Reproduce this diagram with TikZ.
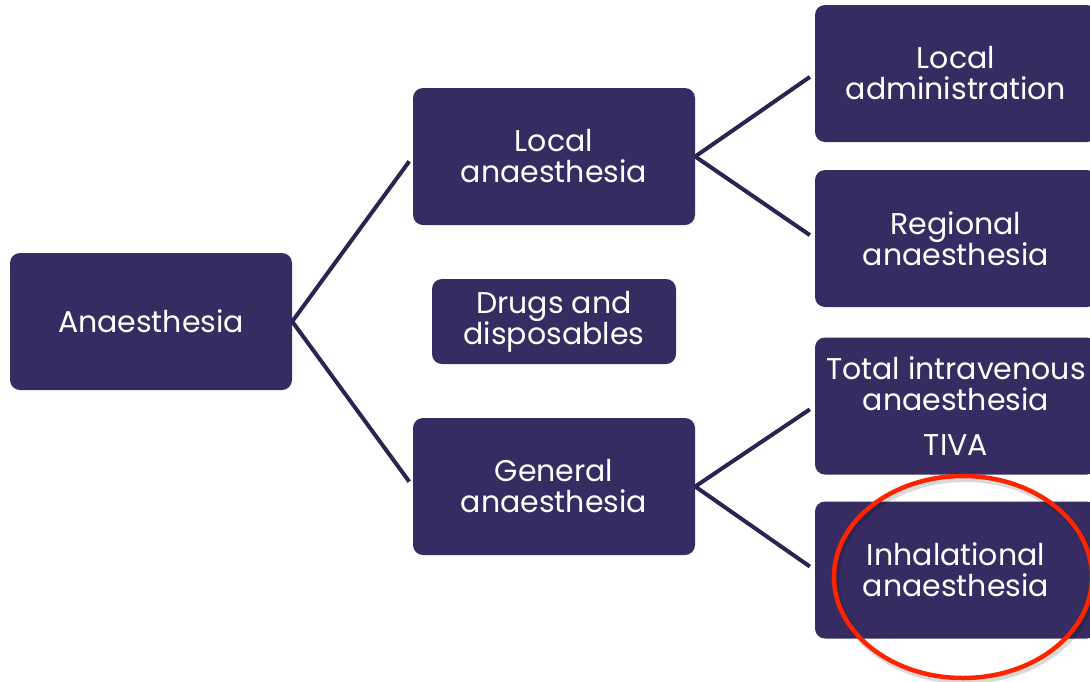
\documentclass[tikz,border=0pt]{standalone}
\usepackage{fontspec}
\setmainfont{Poppins}
\definecolor{boxfill}{HTML}{372C62}
\definecolor{linecol}{HTML}{2B2352}
\definecolor{ringred}{HTML}{FF2400}
\begin{document}
\begin{tikzpicture}[x=1pt,y=-1pt,
  box/.style={fill=boxfill, rounded corners=10pt, inner sep=0pt, minimum width=282pt, minimum height=137pt,
    text=white, align=center, font=\fontsize{30}{31}\selectfont},
  smallbox/.style={box, minimum width=244pt, minimum height=85pt},
  conn/.style={draw=linecol, line width=4pt, shorten >=6pt}]
\useasboundingbox (0,0) rectangle (1090,681);
\fill[white] (0,0) rectangle (1090,681);
\node[box] (A) at (151,321.5) {Anaesthesia};
\node[box] (L) at (554,156.5) {Local\\anaesthesia};
\node[box] (G) at (554,486.5) {General\\anaesthesia};
\node[smallbox] (D) at (554,321.5) {Drugs and\\disposables};
\node[box] (LA) at (956,73.5) {Local\\administration};
\node[box] (RA) at (956,238.5) {Regional\\anaesthesia};
\node[box] (T) at (956,406) {Total intravenous\\anaesthesia\\[14pt]TIVA};
\node[box] (I) at (956,570) {Inhalational\\anaesthesia};
\draw[conn] (A.east) -- (L.west);
\draw[conn] (A.east) -- (G.west);
\draw[conn] (L.east) -- (LA.west);
\draw[conn] (L.east) -- (RA.west);
\draw[conn] (G.east) -- (T.west);
\draw[conn] (G.east) -- (I.west);
\coordinate (ringc) at (963,577);
\draw[black, opacity=0.15, line width=6pt] ([shift={(2,3)}]ringc) ellipse [x radius=129, y radius=101];
\draw[ringred, line width=4.5pt] (ringc) ellipse [x radius=129, y radius=101];
\end{tikzpicture}
\end{document}
